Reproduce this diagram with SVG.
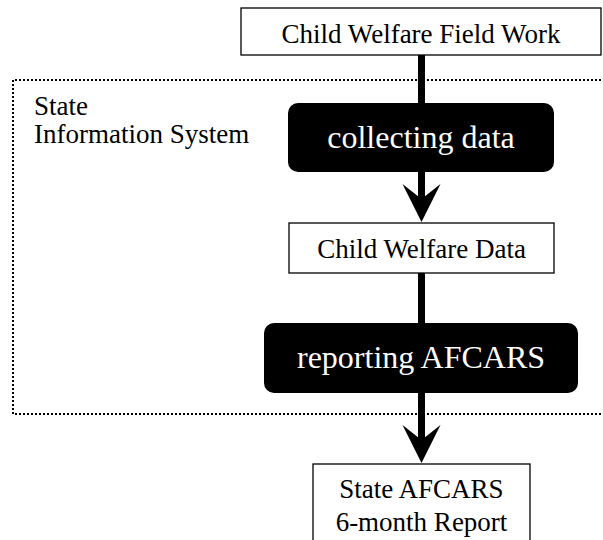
<svg xmlns="http://www.w3.org/2000/svg" width="603" height="540" viewBox="0 0 603 540">
<style>
.box{fill:#fff;stroke:#000;stroke-width:1.3}
.proc{fill:#000}
.t{font-family:"Liberation Serif","Times New Roman",serif;font-size:27px;fill:#000}
.tw{font-family:"Liberation Serif","Times New Roman",serif;font-size:32px;fill:#fff}
.c{text-anchor:middle}
.conn{stroke:#000;stroke-width:7;fill:none}
.frame{fill:none;stroke:#000;stroke-width:2;stroke-dasharray:2 2}
</style>
<defs>
<path id="ah" d="M-19,0 L0,38 L19,0 L0,15 Z" fill="#000"/>
</defs>
<rect width="603" height="540" fill="#fff"/>
<g id="state-info-system">
<path class="frame" d="M605,80 H13 V414 H605"/>
<text class="t" x="34" y="115">State</text>
<text class="t" x="34" y="143">Information System</text>
</g>
<g id="connectors">
<line class="conn" x1="421.5" y1="55" x2="421.5" y2="200"/>
<use href="#ah" x="421.5" y="184"/>
<line class="conn" x1="421.5" y1="273" x2="421.5" y2="441"/>
<use href="#ah" x="421.5" y="425"/>
</g>
<g id="field-work">
<rect class="box" x="241" y="8" width="360" height="47"/>
<text class="t c" x="421" y="43">Child Welfare Field Work</text>
</g>
<g id="collecting-data">
<rect class="proc" x="288" y="103" width="266" height="69" rx="10"/>
<text class="tw c" x="421" y="148">collecting data</text>
</g>
<g id="child-welfare-data">
<rect class="box" x="289" y="223" width="265" height="50"/>
<text class="t c" x="421.5" y="258">Child Welfare Data</text>
</g>
<g id="reporting-afcars">
<rect class="proc" x="264" y="323" width="314" height="70" rx="10"/>
<text class="tw c" x="421" y="368">reporting AFCARS</text>
</g>
<g id="afcars-report">
<rect class="box" x="313" y="464" width="217" height="90"/>
<text class="t c" x="421.5" y="498">State AFCARS</text>
<text class="t c" x="421.5" y="531">6-month Report</text>
</g>
</svg>
